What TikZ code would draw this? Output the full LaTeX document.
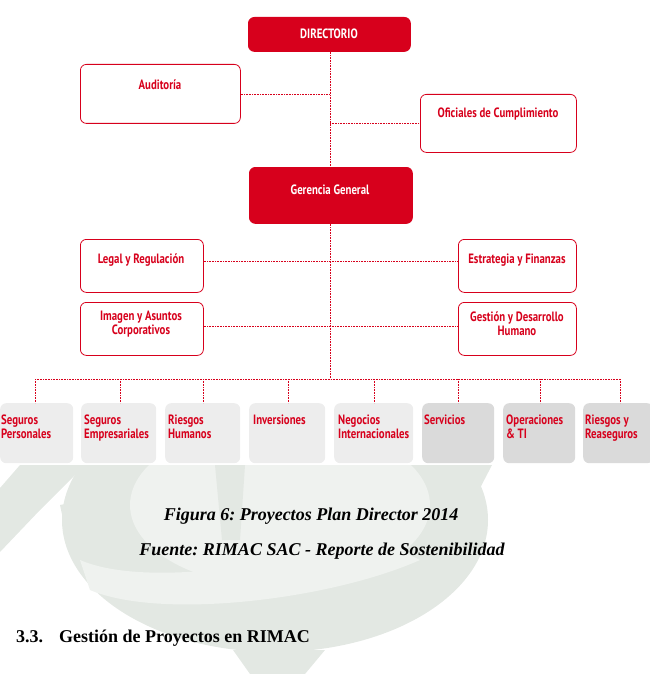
\documentclass[tikz,border=0pt]{standalone}
\usepackage{fontspec}
\setmainfont{Liberation Serif}
\newfontfamily\boxfont[FakeStretch=0.8]{PT Sans}
\frenchspacing
\definecolor{rred}{HTML}{D7001C}
\definecolor{lgray}{HTML}{EDEDED}
\definecolor{dgray}{HTML}{DADADA}
\definecolor{wma}{HTML}{E3E8E3}
\definecolor{wmb}{HTML}{EFF2EF}
\begin{document}
\begin{tikzpicture}[x=1pt,y=-1pt,
  redbox/.style={draw=rred,fill=rred,rounded corners=6pt,line width=0.8pt,anchor=north west,inner sep=0pt},
  whitebox/.style={draw=rred,fill=white,rounded corners=6pt,line width=0.8pt,anchor=north west,inner sep=0pt},
  lbox/.style={fill=lgray,rounded corners=6pt,anchor=north west,inner sep=0pt,minimum height=60pt},
  dbox/.style={fill=dgray,rounded corners=6pt,anchor=north west,inner sep=0pt,minimum height=60pt},
  wtxt/.style={font=\boxfont\bfseries\fontsize{13.5}{14}\selectfont,text=white,align=center,inner sep=0pt},
  rtxt/.style={font=\boxfont\bfseries\fontsize{13.5}{14}\selectfont,text=rred,align=center,inner sep=0pt},
  btxt/.style={font=\boxfont\bfseries\fontsize{13.5}{14}\selectfont,text=rred,align=left,inner sep=0pt,anchor=north west},
  conn/.style={draw=rred,densely dotted,line width=0.6pt},
  captxt/.style={font=\bfseries\itshape\fontsize{18}{20}\selectfont,inner sep=0pt,anchor=base},
  headtxt/.style={font=\bfseries\fontsize{18}{20}\selectfont,inner sep=0pt,anchor=base west}
]
\useasboundingbox (0,0) rectangle (649,674);
% faint watermark crest (below the diagram)
\begin{scope}
  \clip (0,465) rectangle (649,674);
  \fill[wma] (275,520) ellipse (213pt and 132pt);
  \fill[wmb] (280,505) ellipse (150pt and 82pt);
  \fill[wma] (215,465) -- (245,465) -- (240,540) -- (222,540) -- cycle;
  \fill[wmb] (80,560) .. controls (150,590) and (300,560) .. (380,540) -- (420,560)
     .. controls (330,600) and (160,620) .. (90,590) -- cycle;
  \fill[wma] (110,598) .. controls (220,625) and (330,615) .. (400,600) -- (392,612)
     .. controls (320,630) and (220,640) .. (125,612) -- cycle;
  \fill[wma] (20,465) -- (85,465) -- (40,510) -- (0,552) -- (0,488) -- cycle;
  \fill[wma] (60,505) -- (85,500) -- (85,550) -- (70,552) -- cycle;
  \fill[wma] (450,465) -- (492,465) -- (478,492) -- cycle;
  \fill[wma] (233,650) -- (325,650) -- (305,674) -- (250,674) -- cycle;
\end{scope}
% top part
\node[redbox,minimum width=162pt,minimum height=34pt] (dir) at (248,17) {};
\node[wtxt] (dirt) at (329,34) {DIRECTORIO};
\node[whitebox,minimum width=160pt,minimum height=59pt] (aud) at (80,64) {};
\node[rtxt] (audt) at (160,85) {Auditoría};
\node[whitebox,minimum width=156pt,minimum height=58pt] (ofi) at (420,94) {};
\node[rtxt] (ofit) at (498,114) {Oficiales de Cumplimiento};
\node[redbox,minimum width=163pt,minimum height=56pt] (ger) at (249,167) {};
\node[wtxt] (gert) at (330,190) {Gerencia General};
\node[whitebox,minimum width=123pt,minimum height=53pt] (leg) at (80,239) {};
\node[rtxt] (legt) at (141,260) {Legal y Regulación};
\node[whitebox,minimum width=118pt,minimum height=53pt] (est) at (458,239) {};
\node[rtxt] (estt) at (517,260) {Estrategia y Finanzas};
\node[whitebox,minimum width=123pt,minimum height=53pt] (ima) at (80,302) {};
\node[rtxt] (imat) at (141,324) {Imagen y Asuntos\\Corporativos};
\node[whitebox,minimum width=118pt,minimum height=53pt] (ges) at (458,302) {};
\node[rtxt] (gest) at (517,324) {Gestión y Desarrollo\\Humano};
% bottom boxes
\node[lbox,minimum width=73pt] (b1) at (0,403) {};
\node[lbox,minimum width=75pt] (b2) at (81,403) {};
\node[lbox,minimum width=75pt] (b3) at (165,403) {};
\node[lbox,minimum width=76pt] (b4) at (249,403) {};
\node[lbox,minimum width=79pt] (b5) at (334,403) {};
\node[dbox,minimum width=72pt] (b6) at (422,403) {};
\node[dbox,minimum width=72pt] (b7) at (503,403) {};
\node[dbox,minimum width=70pt] (b8) at (583,403) {};
\node[btxt] (t1) at (1,415) {Seguros\\Personales};
\node[btxt] (t2) at (84,415) {Seguros\\Empresariales};
\node[btxt] (t3) at (168,415) {Riesgos\\Humanos};
\node[btxt] (t4) at (253,415) {Inversiones};
\node[btxt] (t5) at (338,415) {Negocios\\Internacionales};
\node[btxt] (t6) at (424,415) {Servicios};
\node[btxt] (t7) at (506,415) {Operaciones\\\& TI};
\node[btxt] (t8) at (585,415) {Riesgos y\\Reaseguros};
% connectors
\coordinate (va) at (330,94);
\coordinate (vo) at (330,123);
\coordinate (bus) at (330,379);
\draw[conn] (dir.south -| bus) -- (ger.north -| bus);
\draw[conn] (ger.south -| bus) -- (bus);
\draw[conn] (aud.east |- va) -- (va);
\draw[conn] (vo) -- (ofi.west |- vo);
\draw[conn] (leg.east |- 0,261) -- (est.west |- 0,261);
\draw[conn] (ima.east |- 0,326) -- (ges.west |- 0,326);
\coordinate (bl) at (35,379);
\coordinate (br) at (620,379);
\draw[conn] (bl) -- (br);
\foreach \x/\b in {35/b1,120/b2,203/b3,288/b4,374/b5,458/b6,540/b7,620/b8}
  \draw[conn] (\x,379) -- (\b.north -| \x,0);
% captions
\node[captxt] (c1) at (311,520) {Figura 6: Proyectos Plan Director 2014};
\node[captxt] (c2) at (322,555) {Fuente: RIMAC SAC - Reporte de Sostenibilidad};
\node[headtxt] (h1) at (16,642) {3.3.};
\node[headtxt] (h2) at (59,642) {Gestión de Proyectos en RIMAC};
\end{tikzpicture}
\end{document}
